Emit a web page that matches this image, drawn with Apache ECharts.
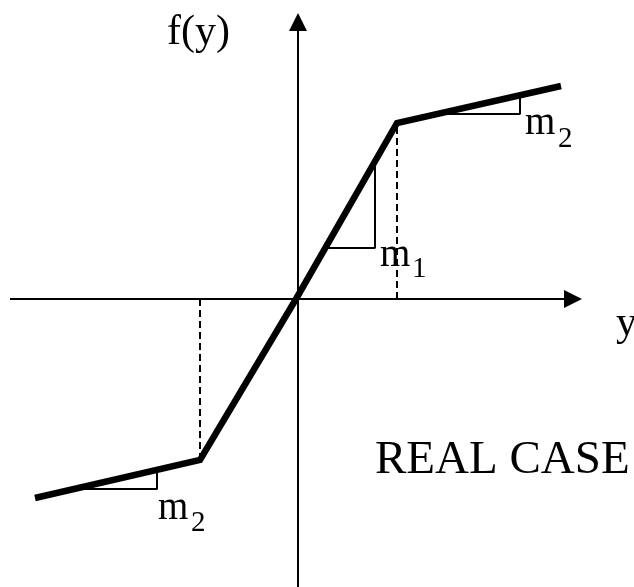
<!DOCTYPE html>
<html>
<head>
<meta charset="utf-8">
<script src="https://cdn.jsdelivr.net/npm/echarts@6/dist/echarts.min.js"></script>
<style>
html,body{margin:0;padding:0;background:#fff;}
#main{width:634px;height:587px;}
</style>
</head>
<body>
<div id="main"></div>
<script>
// piecewise linear f(y), units = (origin at axes crossing)
var curveX = [-2.63, -0.98, -0.02, 0.99, 2.63];
var curveY = [-1.99, -1.61, 0, 1.76, 2.13];

// slope triangles
var triM1 = [[0.27, 0.51], [0.77, 0.51], [0.77, 1.38]];
var triM2Up = [[1.39, 1.85], [2.22, 1.85], [2.22, 2.04]];
var triM2Low = [[-2.24, -1.90], [-1.41, -1.90], [-1.41, -1.71]];

// dashed drop lines from the knees
var dropUp = [[0.99, 0], [0.99, 1.76]];
var dropLow = [[-0.98, 0], [-0.98, -1.61]];

// axis extents (end = middle of the arrow head)
var xAxisEnds = [-2.88, 2.75];
var yAxisEnds = [-2.88, 2.77];

var serif = '"Liberation Serif", "DejaVu Serif", serif';

var myChart = echarts.init(document.getElementById('main'));

function pairs(xs, ys){
	var res = [];
	for (var i = 0; i < xs.length; i++) {
		res.push([xs[i], ys[i]]);
	}
	return res;
}

function thinLine(data, w, dash){
	return {
		type: 'line',
		data: data,
		symbol: 'none',
		silent: true,
		animation: false,
		lineStyle: {color: '#000', width: w, type: dash ? [7, 4] : 'solid'},
		z: 2
	};
}

var option = {
	animation: false,
	grid: {left: 0, right: 0, top: 0, bottom: 0},
	xAxis: {
		type: 'value', min: -2.98, max: 3.36,
		show: false
	},
	yAxis: {
		type: 'value', min: -2.88, max: 2.99,
		show: false
	},
	series: [
		// axes with arrow heads
		{
			type: 'line',
			data: [],
			silent: true,
			markLine: {
				silent: true,
				animation: false,
				symbol: ['none', 'triangle'],
				symbolSize: 18,
				label: {show: false},
				lineStyle: {color: '#000', width: 2, type: 'solid'},
				data: [
					[{coord: [xAxisEnds[0], 0]}, {coord: [xAxisEnds[1], 0]}],
					[{coord: [0, yAxisEnds[0]]}, {coord: [0, yAxisEnds[1]]}]
				]
			},
			z: 1
		},
		thinLine(dropUp, 2, true),
		thinLine(dropLow, 2, true),
		thinLine(triM1, 2, false),
		thinLine(triM2Up, 2, false),
		thinLine(triM2Low, 2, false),
		{
			type: 'line',
			data: pairs(curveX, curveY),
			symbol: 'none',
			silent: true,
			lineStyle: {color: '#000', width: 6.5, join: 'miter'},
			z: 5
		}
	],
	graphic: [
		{type: 'text', x: 167, y: 33, style: {text: 'f(y)', font: '42px ' + serif, fill: '#000', verticalAlign: 'middle'}},
		{type: 'text', x: 616, y: 324, style: {text: 'y', font: '42px ' + serif, fill: '#000', verticalAlign: 'middle'}},
		{type: 'text', x: 375, y: 461, style: {text: 'REAL CASE', font: '47px ' + serif, fill: '#000', verticalAlign: 'middle'}},
		{type: 'text', x: 525, y: 124, style: {text: 'm', font: '39px ' + serif, fill: '#000', verticalAlign: 'middle'}},
		{type: 'text', x: 558, y: 139, style: {text: '2', font: '29px ' + serif, fill: '#000', verticalAlign: 'middle'}},
		{type: 'text', x: 380, y: 256, style: {text: 'm', font: '39px ' + serif, fill: '#000', verticalAlign: 'middle'}},
		{type: 'text', x: 412, y: 269, style: {text: '1', font: '29px ' + serif, fill: '#000', verticalAlign: 'middle'}},
		{type: 'text', x: 158, y: 509, style: {text: 'm', font: '39px ' + serif, fill: '#000', verticalAlign: 'middle'}},
		{type: 'text', x: 191, y: 523, style: {text: '2', font: '29px ' + serif, fill: '#000', verticalAlign: 'middle'}}
	]
};

myChart.setOption(option);
</script>
</body>
</html>
